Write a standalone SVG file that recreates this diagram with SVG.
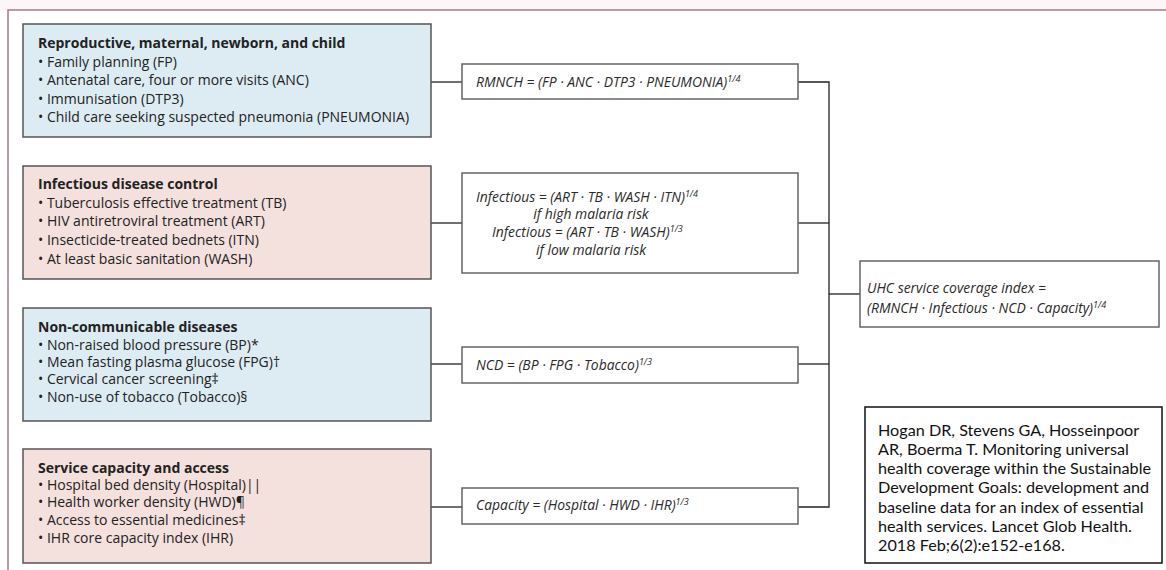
<svg xmlns="http://www.w3.org/2000/svg" width="1166" height="570" viewBox="0 0 1166 570">
  <style>
    .frame { fill: none; stroke: #a87a8c; stroke-width: 1.5; }
    .cat { stroke: #555; stroke-width: 1.5; }
    .blue { fill: #ddecf3; }
    .pink { fill: #f4e0dd; }
    .formula { fill: #fff; stroke: #666; stroke-width: 1.5; }
    .cite { fill: #fff; stroke: #111; stroke-width: 1.5; }
    .conn { fill: none; stroke: #222; stroke-width: 1.3; }
    .t { font-family: "Open Sans", "Noto Sans", sans-serif; font-size: 14px; fill: #222; }
    .h { font-weight: bold; }
    .f { font-family: "Open Sans", "Noto Sans", sans-serif; font-size: 13.9px; font-style: italic; fill: #2a2a2a; }
    .sup { font-size: 9px; }
    .c { font-family: "Lato", "Liberation Sans", sans-serif; font-size: 16.2px; fill: #111; }
  </style>

  <!-- page frame -->
  <rect x="0" y="0" width="1166" height="10" fill="#fdf6f8"/>
  <path class="frame" d="M8,570 V10 H1166"/>

  <!-- connectors -->
  <g id="connectors">
    <path class="conn" d="M431,82 H462"/>
    <path class="conn" d="M431,223 H462"/>
    <path class="conn" d="M431,364 H462"/>
    <path class="conn" d="M431,507 H462"/>
    <path class="conn" d="M798,82 H829 V507 H798"/>
    <path class="conn" d="M798,223 H829"/>
    <path class="conn" d="M798,364 H829"/>
    <path class="conn" d="M829,294 H860"/>
  </g>

  <!-- category boxes -->
  <g id="rmnch-inputs">
    <rect class="cat blue" x="23" y="24" width="408" height="113"/>
    <text class="t h" x="38" y="48">Reproductive, maternal, newborn, and child</text>
    <text class="t" x="38" y="67">• Family planning (FP)</text>
    <text class="t" x="38" y="85">• Antenatal care, four or more visits (ANC)</text>
    <text class="t" x="38" y="104">• Immunisation (DTP3)</text>
    <text class="t" x="38" y="122">• Child care seeking suspected pneumonia (PNEUMONIA)</text>
  </g>

  <g id="infectious-inputs">
    <rect class="cat pink" x="23" y="166" width="408" height="113"/>
    <text class="t h" x="38" y="189">Infectious disease control</text>
    <text class="t" x="38" y="208">• Tuberculosis effective treatment  (TB)</text>
    <text class="t" x="38" y="226">• HIV antiretroviral treatment (ART)</text>
    <text class="t" x="38" y="245">• Insecticide-treated bednets (ITN)</text>
    <text class="t" x="38" y="264">• At least basic sanitation (WASH)</text>
  </g>

  <g id="ncd-inputs">
    <rect class="cat blue" x="23" y="308" width="408" height="113"/>
    <text class="t h" x="38" y="332">Non-communicable diseases</text>
    <text class="t" x="38" y="350">• Non-raised blood pressure (BP)*</text>
    <text class="t" x="38" y="367">• Mean fasting plasma glucose (FPG)†</text>
    <text class="t" x="38" y="384">• Cervical cancer screening‡</text>
    <text class="t" x="38" y="402">• Non-use of tobacco (Tobacco)§</text>
  </g>

  <g id="capacity-inputs">
    <rect class="cat pink" x="23" y="449" width="408" height="114"/>
    <text class="t h" x="38" y="473">Service capacity and access</text>
    <text class="t" x="38" y="490">• Hospital bed density (Hospital)||</text>
    <text class="t" x="38" y="507">• Health worker density (HWD)¶</text>
    <text class="t" x="38" y="525">• Access to essential medicines‡</text>
    <text class="t" x="38" y="543">• IHR core capacity index (IHR)</text>
  </g>

  <!-- sub-index formulas -->
  <g id="rmnch-formula">
    <rect class="formula" x="462" y="64" width="336" height="35"/>
    <text class="f" x="476" y="87">RMNCH = (FP · ANC · DTP3 · PNEUMONIA)<tspan class="sup" dy="-5">1/4</tspan></text>
  </g>

  <g id="infectious-formula">
    <rect class="formula" x="462" y="173" width="336" height="100"/>
    <text class="f" x="476" y="202">Infectious = (ART · TB · WASH · ITN)<tspan class="sup" dy="-5">1/4</tspan></text>
    <text class="f" x="591" y="219" text-anchor="middle">if high malaria risk</text>
    <text class="f" x="492" y="237">Infectious = (ART · TB · WASH)<tspan class="sup" dy="-5">1/3</tspan></text>
    <text class="f" x="591" y="255" text-anchor="middle">if low malaria risk</text>
  </g>

  <g id="ncd-formula">
    <rect class="formula" x="462" y="347" width="336" height="36"/>
    <text class="f" x="476" y="370">NCD = (BP · FPG · Tobacco)<tspan class="sup" dy="-5">1/3</tspan></text>
  </g>

  <g id="capacity-formula">
    <rect class="formula" x="462" y="488" width="336" height="36"/>
    <text class="f" x="476" y="510">Capacity = (Hospital · HWD · IHR)<tspan class="sup" dy="-5">1/3</tspan></text>
  </g>

  <!-- overall index -->
  <g id="uhc-index">
    <rect class="formula" x="860" y="261" width="299" height="66"/>
    <text class="f" x="867" y="293">UHC service coverage index =</text>
    <text class="f" x="867" y="313">(RMNCH · Infectious · NCD · Capacity)<tspan class="sup" dy="-5">1/4</tspan></text>
  </g>

  <!-- reference -->
  <g id="citation">
    <rect class="cite" x="865" y="407" width="297" height="156"/>
    <text class="c" x="878" y="436">Hogan DR, Stevens GA, Hosseinpoor</text>
    <text class="c" x="878" y="455">AR, Boerma T. Monitoring universal</text>
    <text class="c" x="878" y="474">health coverage within the Sustainable</text>
    <text class="c" x="878" y="493">Development Goals: development and</text>
    <text class="c" x="878" y="513">baseline data for an index of essential</text>
    <text class="c" x="878" y="532">health services. Lancet Glob Health.</text>
    <text class="c" x="878" y="551">2018 Feb;6(2):e152-e168.</text>
  </g>
</svg>
